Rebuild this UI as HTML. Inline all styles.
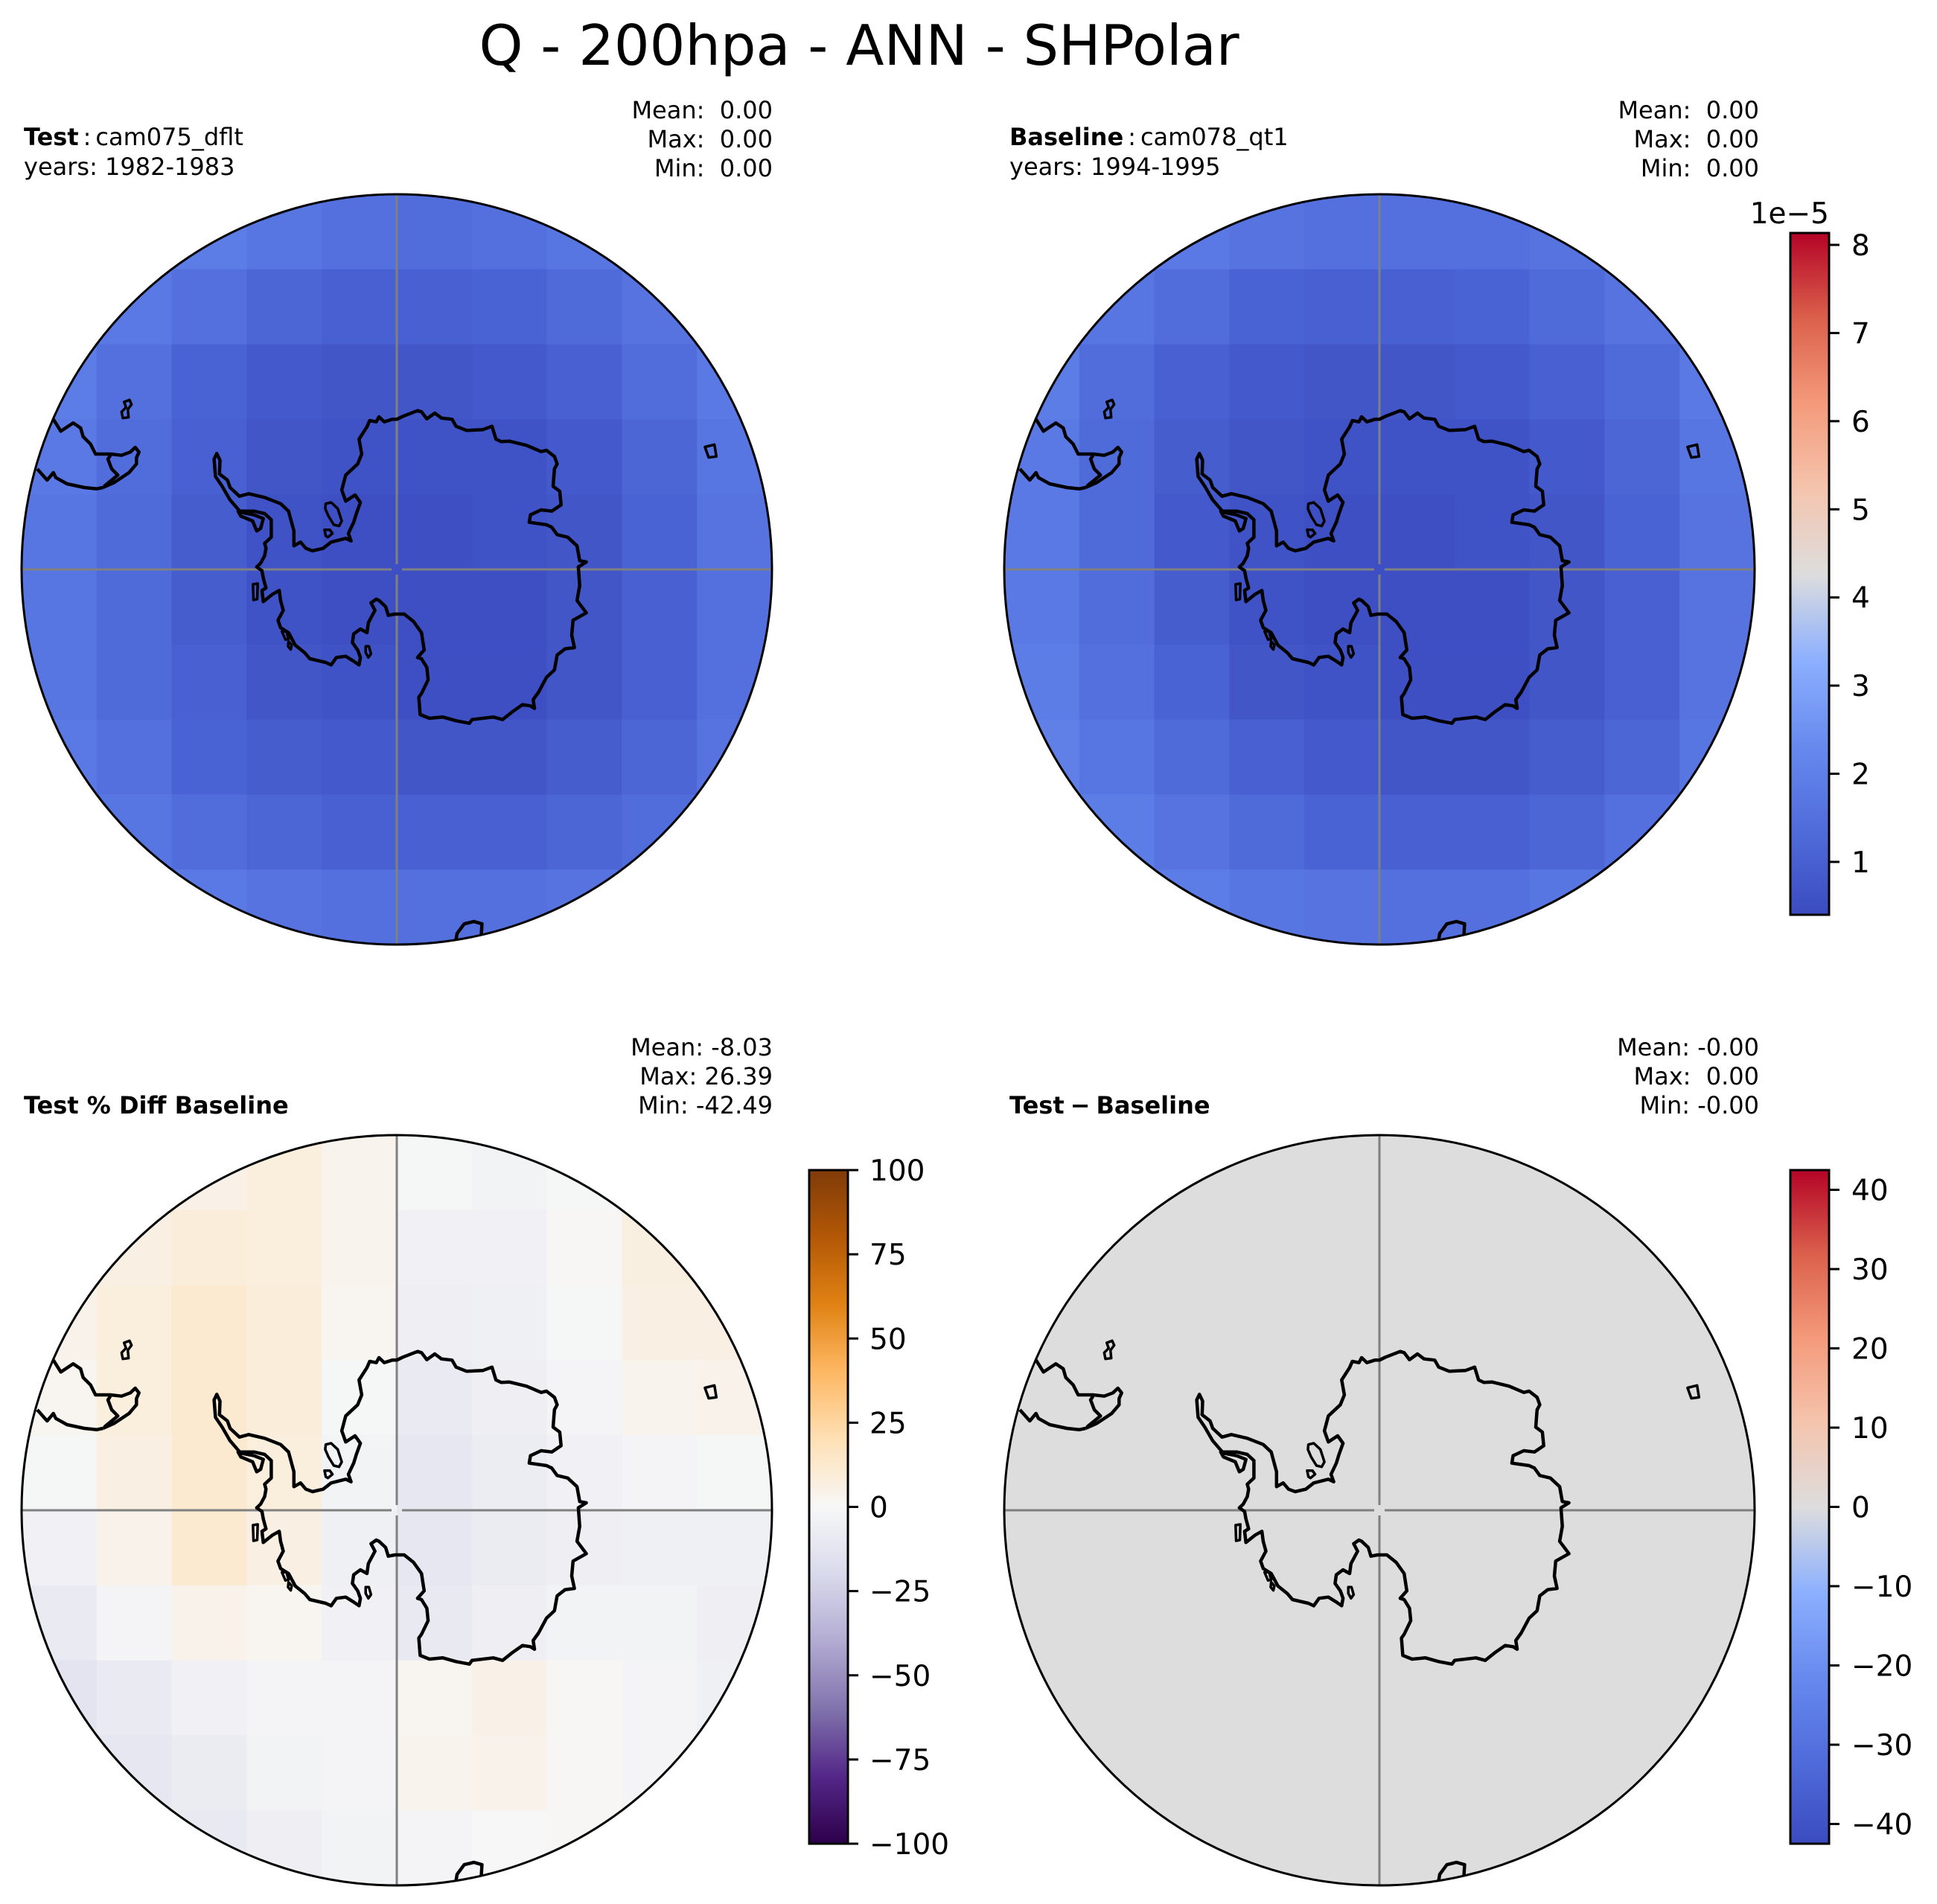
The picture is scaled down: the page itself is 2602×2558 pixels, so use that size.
<!DOCTYPE html>
<html><head><meta charset="utf-8"><style>
html,body{margin:0;padding:0;background:#fff}
svg{display:block}
text{font-family:"DejaVu Sans","Liberation Sans",sans-serif;fill:#000}
</style></head><body>
<svg id="fig" xmlns="http://www.w3.org/2000/svg" width="2602" height="2558" viewBox="0 0 2602 2558">
<text x="1154" y="87" font-size="75" text-anchor="middle">Q - 200hpa - ANN - SHPolar</text>

<text x="32" y="195" font-size="32"><tspan font-weight="bold">Test</tspan><tspan dx="6">:</tspan><tspan dx="6">cam075_dflt</tspan></text>
<text x="32" y="235" font-size="32">years: 1982-1983</text>
<text font-size="32" text-anchor="end" xml:space="preserve"><tspan x="1038" y="159">Mean:  0.00</tspan><tspan x="1038" y="198">Max:  0.00</tspan><tspan x="1038" y="237">Min:  0.00</tspan></text>

<text x="1356" y="195" font-size="32"><tspan font-weight="bold">Baseline</tspan><tspan dx="6">:</tspan><tspan dx="6">cam078_qt1</tspan></text>
<text x="1356" y="235" font-size="32">years: 1994-1995</text>
<text font-size="32" text-anchor="end" xml:space="preserve"><tspan x="2363" y="159">Mean:  0.00</tspan><tspan x="2363" y="198">Max:  0.00</tspan><tspan x="2363" y="237">Min:  0.00</tspan></text>

<text x="32" y="1496" font-size="32" font-weight="bold">Test % Diff Baseline</text>
<text font-size="32" text-anchor="end" xml:space="preserve"><tspan x="1038" y="1418">Mean: -8.03</tspan><tspan x="1038" y="1457">Max: 26.39</tspan><tspan x="1038" y="1496">Min: -42.49</tspan></text>

<text x="1356" y="1496" font-size="32" font-weight="bold">Test<tspan dx="8">−</tspan><tspan dx="8">Baseline</tspan></text>
<text font-size="32" text-anchor="end" xml:space="preserve"><tspan x="2363" y="1418">Mean: -0.00</tspan><tspan x="2363" y="1457">Max:  0.00</tspan><tspan x="2363" y="1496">Min: -0.00</tspan></text>
</svg>
<script>
// ---------- data ----------
const testQ = [ // 1e-5 kg/kg, 10x10 grid, rows top->bottom
[2.0,2.0,1.9,1.7,1.5,1.4,1.5,1.7,1.9,2.0],
[2.0,1.8,1.5,1.2,1.0,1.0,1.1,1.3,1.6,1.9],
[1.9,1.5,1.1,0.8,0.7,0.7,0.8,1.0,1.4,1.8],
[1.8,1.4,1.0,0.7,0.6,0.6,0.6,0.8,1.2,1.7],
[1.7,1.3,0.9,0.6,0.5,0.5,0.6,0.7,1.1,1.6],
[1.7,1.3,0.9,0.6,0.5,0.5,0.5,0.7,1.0,1.5],
[1.7,1.3,1.0,0.7,0.6,0.5,0.5,0.7,1.0,1.5],
[1.8,1.5,1.1,0.9,0.8,0.7,0.7,0.9,1.2,1.6],
[1.9,1.7,1.4,1.2,1.0,1.0,1.0,1.2,1.4,1.8],
[2.0,1.9,1.8,1.6,1.5,1.5,1.5,1.6,1.8,2.0]];
const baseQ = [
[2.0,2.0,1.8,1.6,1.5,1.5,1.5,1.6,1.8,2.0],
[2.0,1.7,1.4,1.1,1.0,1.0,1.1,1.3,1.6,1.9],
[1.9,1.4,1.0,0.8,0.7,0.7,0.8,1.0,1.3,1.8],
[1.8,1.3,0.9,0.7,0.6,0.6,0.6,0.8,1.2,1.7],
[1.8,1.3,0.8,0.6,0.5,0.5,0.6,0.7,1.1,1.6],
[1.8,1.4,0.9,0.6,0.5,0.5,0.5,0.7,1.0,1.6],
[1.9,1.5,1.1,0.7,0.6,0.5,0.5,0.7,1.0,1.6],
[2.0,1.7,1.3,1.0,0.8,0.7,0.7,0.9,1.2,1.7],
[2.0,1.9,1.6,1.3,1.1,1.0,1.0,1.2,1.5,1.9],
[2.0,2.0,1.9,1.7,1.6,1.5,1.5,1.7,1.9,2.0]];
const pctDiff = [
[2,3,5,8,3,-1,-3,-1,3,2],
[3,6,9,8,3,-4,-4,1,7,5],
[4,8,12,9,2,-6,-5,-1,6,6],
[2,8,12,9,-1,-9,-6,-2,3,4],
[-1,6,12,8,-3,-11,-7,-4,-2,-1],
[-4,4,12,6,-5,-11,-8,-6,-5,-5],
[-9,-2,4,2,-4,-10,-6,-3,-3,-6],
[-13,-9,-4,-2,-2,2,5,1,-2,-5],
[-11,-11,-8,-3,-2,3,4,1,-2,-3],
[-8,-10,-10,-6,-3,-2,0,1,1,-2]];
const absDiffValue = 0;
const qTicks = [1,2,3,4,5,6,7,8];
const qRange = [0.4, 8.135];
const pctTicks = [-100,-75,-50,-25,0,25,50,75,100];
const pctRange = [-100, 100];
const diffTicks = [-40,-30,-20,-10,0,10,20,30,40];
const diffRange = [-42.49, 42.49];

// ---------- colormaps ----------
const coolwarmStops=[[0,[59,76,192]],[0.125,[80,108,219]],[0.25,[104,138,239]],[0.375,[141,176,254]],[0.5,[221,221,221]],[0.625,[245,196,173]],[0.75,[244,154,123]],[0.875,[219,96,76]],[1,[180,4,38]]];
const puorStops=[[0,[45,0,75]],[0.1,[84,39,136]],[0.2,[128,115,172]],[0.3,[178,171,210]],[0.4,[216,218,235]],[0.5,[247,247,247]],[0.6,[254,224,182]],[0.7,[253,184,99]],[0.8,[224,130,20]],[0.9,[179,88,6]],[1,[127,59,8]]];
function cmap(stops,t){t=Math.max(0,Math.min(1,t));for(let i=1;i<stops.length;i++){if(t<=stops[i][0]){const a=stops[i-1],b=stops[i];const f=(t-a[0])/(b[0]-a[0]);const c=a[1].map((v,k)=>Math.round(v+(b[1][k]-v)*f));return `rgb(${c[0]},${c[1]},${c[2]})`;}}const l=stops[stops.length-1][1];return `rgb(${l[0]},${l[1]},${l[2]})`;}

const NS='http://www.w3.org/2000/svg';
const svg=document.getElementById('fig');
function mk(tag,attrs,parent){const e=document.createElementNS(NS,tag);for(const k in attrs)e.setAttribute(k,attrs[k]);(parent||svg).appendChild(e);return e;}
const R=504;

// coastline geometry (offsets relative to pole)
const antZ=[[737,130],[760,118],[815,95],[830,100],[850,128],[880,105],[905,125],[945,130],[960,158],[1000,175],[1060,172],[1095,158],[1110,210],[1130,220],[1160,218],[1225,235],[1280,260],[1300,255],[1330,280],[1340,310],[1330,330],[1325,400],[1350,420],[1355,475],[1320,500],[1280,495],[1240,515],[1235,545],[1300,555],[1320,565],[1340,595],[1380,605],[1415,640],[1425,700],[1450,705],[1420,725],[1425,800],[1415,860],[1450,910],[1400,940],[1395,1000],[1405,1050],[1370,1055],[1340,1080],[1330,1140],[1300,1170],[1270,1230],[1250,1260],[1255,1295],[1240,1285],[1210,1280],[1170,1310],[1135,1340],[1100,1330],[1020,1340],[1010,1355],[960,1345],[910,1330],[860,1335],[825,1320],[820,1250],[830,1235],[855,1180],[850,1130],[830,1095],[815,1090],[840,1060],[830,990],[800,945],[765,915],[730,915],[705,920],[695,885],[670,860],[660,855],[640,870],[655,900],[630,950],[625,990],[600,975],[575,995],[570,1030],[590,1060],[600,1090],[595,1120],[575,1105],[545,1085],[510,1090],[490,1120],[470,1110],[410,1095],[390,1070],[355,1040],[330,990],[300,970],[290,940],[310,900],[300,860],[295,820],[270,835],[235,865],[230,820],[245,810],[235,770],[230,740],[210,725],[225,710],[240,680],[245,650],[240,630],[265,605],[265,535],[240,510],[200,500],[140,500],[150,520],[195,540],[210,580],[225,570],[235,530],[200,515],[150,505],[110,455],[80,400],[55,360],[50,290],[60,268],[72,295],[70,350],[100,375],[110,405],[145,440],[180,430],[240,445],[300,470],[330,500],[350,580],[350,640],[375,625],[395,650],[420,660],[460,650],[490,625],[545,610],[565,620],[555,590],[575,545],[585,510],[600,465],[580,435],[545,460],[530,415],[545,355],[590,310],[605,270],[600,240],[595,210],[625,160],[635,135],[660,140],[670,120],[690,140],[720,130],[737,130]];
const islandsZ=[[[470,470],[490,465],[515,490],[530,540],[520,560],[500,555],[480,520],[468,490],[470,470]],[[465,575],[485,575],[495,590],[478,605],[470,600],[465,575]],[[196,795],[214,792],[212,855],[198,858],[196,795]],[[620,1045],[632,1045],[640,1075],[630,1090],[620,1070],[620,1045]],[[305,985],[322,985],[330,1015],[318,1018],[305,985]],[[330,1025],[342,1040],[338,1058],[328,1045],[330,1025]]];
function antPt(p){return [(p[0]-737)/2.8,(p[1]-735)/3];}
const saUpperZ=[[155,130],[185,178],[235,145],[265,165],[275,200],[305,230],[325,270],[385,270],[430,275],[465,262],[485,243],[500,262],[490,285],[490,310],[460,345],[400,385],[355,405]];
const saLowerZ=[[90,330],[130,375],[155,345],[165,365],[210,390],[280,405],[330,410],[355,405]];
const saInnerZ=[[385,275],[375,290],[390,330],[415,355],[360,400]];
const saIslZ=[[440,60],[462,52],[470,70],[455,90],[458,122],[435,125],[430,100],[448,82],[440,60]];
function saPt(p){return [20+p[0]/3-533,520+p[1]/3-765];}
const rightIslZ=[[1428,528],[1448,523],[1452,548],[1436,550],[1428,528]];
const bottomIslZ=[[905,1575],[910,1545],[925,1525],[945,1520],[962,1525],[960,1560]];
function z8Pt(p){return [(p[0]-784)/1.556,(p[1]-784)/1.556];}

function drawPanel(name,cx,cy,grid,cmapStops,vmin,vmax){
  const g=mk('g',{});
  
  
  const cp=mk('clipPath',{id:'clip-'+name},g);
  mk('circle',{cx:cx,cy:cy,r:R},cp);
  const field=mk('g',{'clip-path':'url(#clip-'+name+')'},g);
  
  
  const n=grid.length, cs=2*R/n;
  for(let i=0;i<n;i++)for(let j=0;j<grid[i].length;j++){
    const c=mk('rect',{x:cx-R+j*cs,y:cy-R+i*cs,width:cs+0.8,height:cs+0.8,fill:cmap(cmapStops,(grid[i][j]-vmin)/(vmax-vmin))},field);
    
    
  }
  const gl=mk('g',{stroke:'#808080','stroke-width':3},field);
  
  
  mk('line',{x1:cx,y1:cy-R,x2:cx,y2:cy-7},gl);
  mk('line',{x1:cx,y1:cy+7,x2:cx,y2:cy+R},gl);
  mk('line',{x1:cx-R,y1:cy,x2:cx-7,y2:cy},gl);
  mk('line',{x1:cx+7,y1:cy,x2:cx+R,y2:cy},gl);
  const co=mk('g',{fill:'none',stroke:'#000','stroke-width':4.5,'stroke-linejoin':'round'},field);
  
  
  const pts=(arr,f)=>arr.map(p=>{const q=f(p);return (cx+q[0]).toFixed(1)+','+(cy+q[1]).toFixed(1);}).join(' ');
  const ant=mk('polygon',{points:pts(antZ,antPt)},co);
  
  
  islandsZ.forEach(isl=>mk('polygon',{points:pts(isl,antPt),'stroke-width':3.5},co));
  mk('polyline',{points:pts(saUpperZ,saPt)},co);
  mk('polyline',{points:pts(saLowerZ,saPt)},co);
  mk('polyline',{points:pts(saInnerZ,saPt)},co);
  mk('polygon',{points:pts(saIslZ,saPt),'stroke-width':3.5},co);
  mk('polygon',{points:pts(rightIslZ,z8Pt),'stroke-width':3.5},co);
  mk('polyline',{points:pts(bottomIslZ,z8Pt)},co);
  const border=mk('circle',{cx:cx,cy:cy,r:R,fill:'none',stroke:'#000','stroke-width':3},g);
  
  
}

function drawColorbar(name,x,top,bottom,stops,vmin,vmax,ticks,labelX){
  const g=mk('g',{});
  
  
  const defs=mk('defs',{},g);
  const lg=mk('linearGradient',{id:'grad-'+name,x1:0,y1:1,x2:0,y2:0},defs);
  for(let k=0;k<=40;k++){mk('stop',{offset:k/40,'stop-color':cmap(stops,k/40)},lg);}
  const w=52;
  mk('rect',{x:x,y:top,width:w,height:bottom-top,fill:'url(#grad-'+name+')',stroke:'#000','stroke-width':3},g);
  const ys=v=>bottom-(v-vmin)/(vmax-vmin)*(bottom-top);
  ticks.forEach(t=>{
    const y=ys(t);
    const tk=mk('line',{x1:x+w,y1:y,x2:x+w+14,y2:y,stroke:'#000','stroke-width':3},g);
    
    
    const lb=mk('text',{x:labelX,y:y+14,'font-size':39},g);
    lb.textContent=(t<0?'\u2212':'')+Math.abs(t);
    
    
  });
}

drawPanel('test',533,765,testQ,coolwarmStops,qRange[0],qRange[1]);
drawPanel('baseline',1853,765,baseQ,coolwarmStops,qRange[0],qRange[1]);
drawPanel('pct-diff',533,2029,pctDiff,puorStops,pctRange[0],pctRange[1]);
drawPanel('diff',1853,2029,[[absDiffValue]],coolwarmStops,diffRange[0],diffRange[1]);

drawColorbar('q',2405,313,1229,coolwarmStops,qRange[0],qRange[1],qTicks,2487);
drawColorbar('pct-diff',1087,1572,2477,puorStops,pctRange[0],pctRange[1],pctTicks,1168);
drawColorbar('diff',2405,1572,2477,coolwarmStops,diffRange[0],diffRange[1],diffTicks,2487);

const off=mk('text',{x:2457,y:300,'font-size':39,'text-anchor':'end'});
off.textContent='1e\u22125';


</script>
</body></html>
